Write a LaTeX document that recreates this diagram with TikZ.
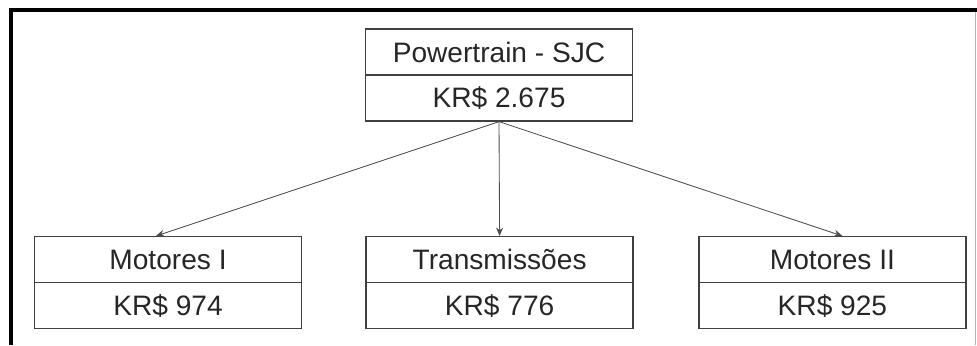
\documentclass[tikz,border=0pt]{standalone}
\usepackage{fontspec}
\setmainfont{Liberation Sans}
\usetikzlibrary{arrows.meta}

\begin{document}
\begin{tikzpicture}[
  cell/.style={rectangle, draw=black!75, line width=0.9pt, minimum width=6.675cm,
               minimum height=1.15cm, inner sep=0pt, text=black!85,
               font=\fontsize{20}{24}\selectfont},
  arrow/.style={-{Stealth[length=6pt,width=5pt]}, draw=black!70, line width=0.6pt}
]
  \useasboundingbox (0,0) rectangle (24.425,-8.625);

  \node[cell] (pt)  at (12.475, -1.3)  {Powertrain - SJC};
  \node[cell] (ptv) at (12.475, -2.45) {KR\$ 2.675};

  \node[cell] (m1)  at (4.2, -6.49)   {Motores I};
  \node[cell] (m1v) at (4.2, -7.64)   {KR\$ 974};

  \node[cell] (tr)  at (12.49, -6.49)  {Transmissões};
  \node[cell] (trv) at (12.49, -7.64)  {KR\$ 776};

  \node[cell] (m2)  at (20.81, -6.49)  {Motores II};
  \node[cell] (m2v) at (20.81, -7.64)  {KR\$ 925};

  \draw[arrow] (ptv.south) -- ([xshift=-0.3cm]m1.north);
  \draw[arrow] (ptv.south) -- (tr.north);
  \draw[arrow] (ptv.south) -- ([xshift=0.25cm]m2.north);

  % frame
  \draw[line width=2.8pt] (0.275, -8.625) -- (0.275, -0.25) -- (24.425, -0.25);
  \draw[black!30, line width=0.5pt] (24.39, -0.3) -- (24.39, -8.625);

\end{tikzpicture}
\end{document}
